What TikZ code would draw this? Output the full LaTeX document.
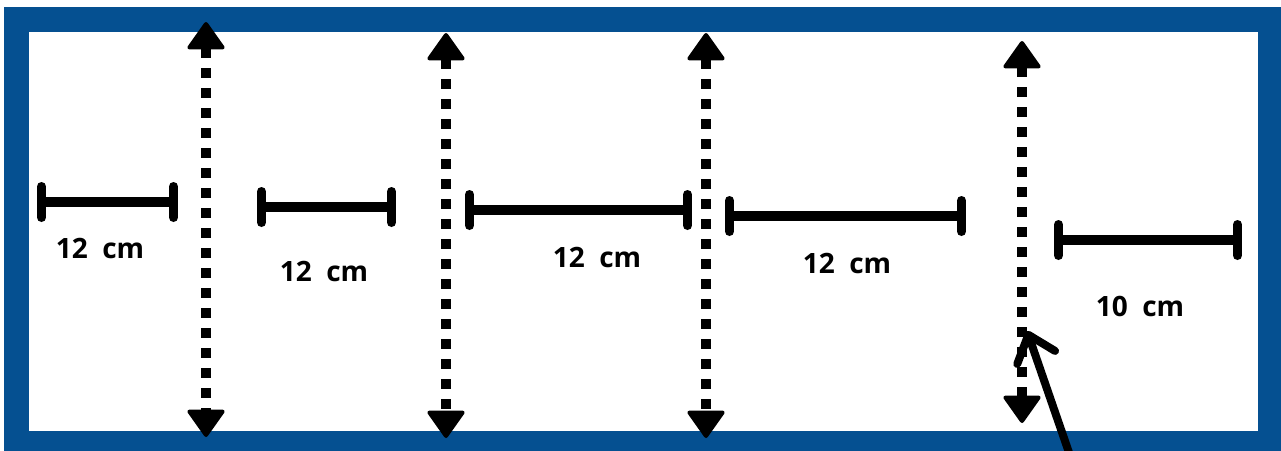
\documentclass[tikz,border=0pt]{standalone}
\usepackage{fontspec}
\setmainfont{Open Sans}
\usetikzlibrary{arrows.meta}
\definecolor{frameblue}{RGB}{5,80,145}
\tikzset{
  frame/.style={draw=frameblue,line width=25pt},
  dotarrow/.style={line width=10pt,dash pattern=on 10pt off 10pt,
    {Triangle[width=40pt,length=29pt,round,line width=4pt]}-{Triangle[width=40pt,length=29pt,round,line width=4pt]}},
  measure/.style={line width=10pt,{Bar[width=31pt,round,line width=9pt]}-{Bar[width=31pt,round,line width=9pt]}},
  lbl/.style={font=\bfseries\fontsize{28}{30}\selectfont,inner sep=0pt},
  pointer/.style={line width=8pt,line cap=round,-{Straight Barb[length=24pt,width=40pt,round,line width=8pt]}}
}
\begin{document}
\begin{tikzpicture}[x=1pt,y=-1pt]
\useasboundingbox (0,0) rectangle (1281,450);
\draw[frame] (16.5,19.5) rectangle (1270,443);
% dotted double arrows
\coordinate (a1t) at (206,22);  \coordinate (a1b) at (206,437);
\coordinate (a2t) at (446,33);  \coordinate (a2b) at (446,438);
\coordinate (a3t) at (706,33);  \coordinate (a3b) at (706,438);
\coordinate (a4t) at (1022,41); \coordinate (a4b) at (1022,423);
\draw[dotarrow] (a1t) -- (a1b);
\draw[dotarrow] (a2t) -- (a2b);
\draw[dotarrow] (a3t) -- (a3b);
\draw[dotarrow] (a4t) -- (a4b);
% measures
\coordinate (m1l) at (37,202);   \coordinate (m1r) at (178,202);
\coordinate (m2l) at (257,207);  \coordinate (m2r) at (396,207);
\coordinate (m3l) at (465,210);  \coordinate (m3r) at (692,210);
\coordinate (m4l) at (725,216);  \coordinate (m4r) at (966,216);
\coordinate (m5l) at (1054,240); \coordinate (m5r) at (1242,240);
\draw[measure] (m1l) -- (m1r);
\draw[measure] (m2l) -- (m2r);
\draw[measure] (m3l) -- (m3r);
\draw[measure] (m4l) -- (m4r);
\draw[measure] (m5l) -- (m5r);
\node[lbl] (l1) at (100,248) {12~~cm};
\node[lbl] (l2) at (324,271) {12~~cm};
\node[lbl] (l3) at (597,257) {12~~cm};
\node[lbl] (l4) at (847,263) {12~~cm};
\node[lbl] (l5) at (1140,306) {10~~cm};
% pointer
\coordinate (ps) at (1075,470);
\coordinate (pt) at (1027,331);
\draw[pointer] (ps) -- (pt);
\end{tikzpicture}
\end{document}
